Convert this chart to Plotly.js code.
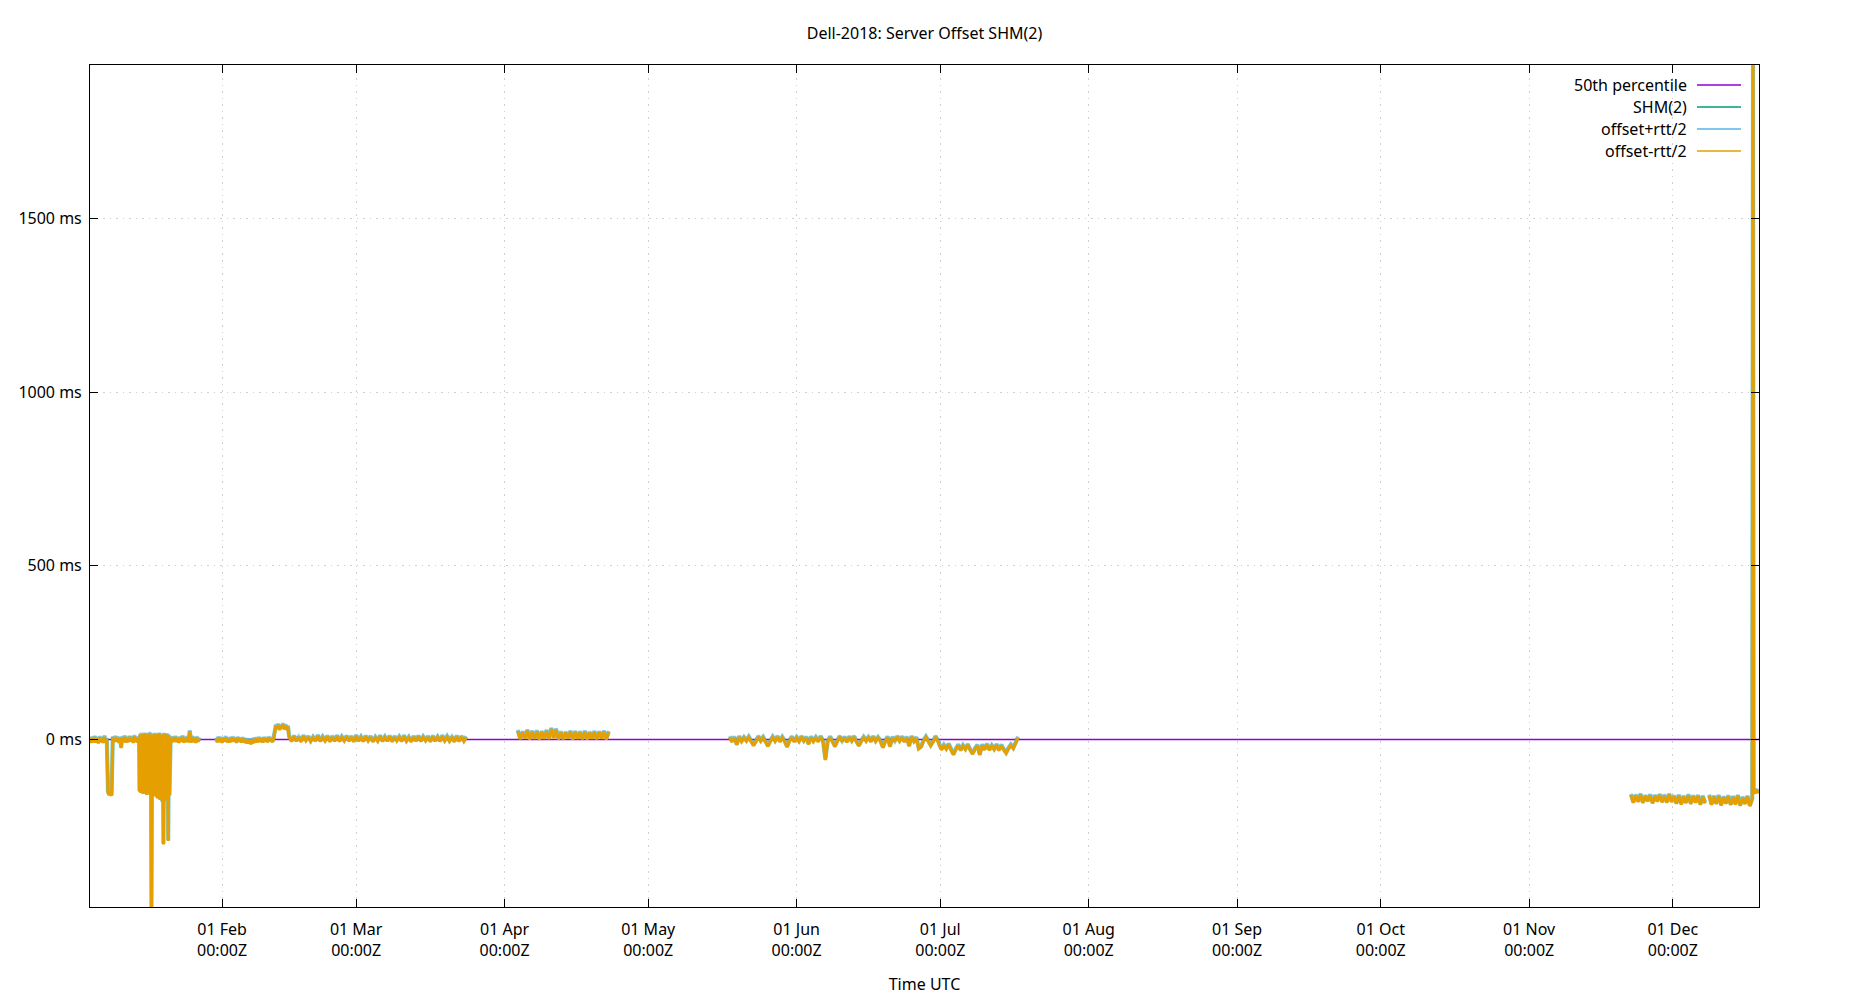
<!DOCTYPE html>
<html>
<head>
<meta charset="utf-8">
<script src="https://cdn.plot.ly/plotly-3.0.1.min.js"></script>
<style>html,body{margin:0;padding:0;background:#fff;}</style>
</head>
<body>
<div id="chart" style="width:1850px;height:1000px;"></div>
<script>
// ---------------- DATA ----------------
const chartTitle = 'Dell-2018: Server Offset SHM(2)';
const xAxisTitle = 'Time UTC';
const seriesNames = ['50th percentile', 'SHM(2)', 'offset+rtt/2', 'offset-rtt/2'];
const seriesColors = ['#9400d3', '#009e73', '#56b4e9', '#e69f00'];

// tick labels
const monthTickDates = ['2018-02-01','2018-03-01','2018-04-01','2018-05-01','2018-06-01','2018-07-01',
                        '2018-08-01','2018-09-01','2018-10-01','2018-11-01','2018-12-01'];
const monthTickNames = ['Feb','Mar','Apr','May','Jun','Jul','Aug','Sep','Oct','Nov','Dec'];
const yTickValues = [0, 500, 1000, 1500];

// 50th percentile (ms)
const pctTimes = ['2018-01-04 09:50', '2018-12-19 00:00'];
const pctValues = [0, 0];

// sampled segments: start time (UTC), sampling step (hours), starts a new run after a gap
const segStart = ['2018-01-04 10:00','2018-01-14 18:00','2018-01-21 06:00',
                  '2018-01-30 18:00','2018-02-12 00:00','2018-02-15 00:00',
                  '2018-04-03 18:00',
                  '2018-05-18 00:00','2018-06-30 18:00',
                  '2018-11-22 06:00',
                  '2018-12-08 14:00','2018-12-17 18:00'];
const segStepHours = [6, 3, 6, 6, 6, 12, 12, 12, 12, 12, 12, 3];
const segAfterGap = [false, false, false, true, false, false, true, true, false, true, true, false];
// half round-trip time per segment (ms)
const segHalfRtt = [2, 2, 2, 2, 2, 2, 2, 2, 2, 2, 2, 2];

// offsets (ms)
const offJanA = [5,-8,7,-6,9,-7,4,-9,8,-5,6,-8,10,-6,3,-150,-158,-152,-160,8,
                 -6,9,-4,7,-8,6,-23,8,-5,10,-7,5,-6,9,-4,7,-8,11,-5,6,-7,8];
const offJanB = [-148,14,-152,18,-150,12,-155,16,-149,19,-153,13,-158,17,-151,15,-156,20,-154,12,
                 -482,16,-160,14,-157,18,-162,13,-159,17,-168,15,-163,19,-172,12,-166,16,-178,14,
                 -300,18,-175,13,-170,17,-165,15,-290,12,-160];
const offJanC = [6,-7,8,-5,9,-6,5,-8,7,-4,10,-7,6,-5,8,-6,25,-7,9,-5,6,-8,7,-4,5];
const offFebA = [4,-6,7,-5,6,-8,5,-4,8,-6,3,-7,6,-5,7,-4,5,-8,6,-3,
                 4,-7,5,-6,3,-9,2,-10,1,-12,2,-9,4,-7,5,-6,6,-5,4,-7,
                 6,-4,5,-6,7,-3,5,-6,4];
const offFebB = [30,42,33,44,29,40,35,45,31,41,34,38];
const offMar = [9,-4,10,-3,8,-5,11,-2,9,-4,7,-3,12,-4,8,-2,10,-5,9,-3,
                11,-4,8,-2,10,-3,9,-5,12,-3,8,-4,10,-2,9,-5,7,-3,11,-4,
                8,-3,10,-5,9,-2,8,-4,11,-3,7,-5,9,-3,10,-4,8,-2,9,-5,
                10,-3,8,-4,11,-2,9,-3,8,-5,10,-4,9,-3,8];
const offApr = [26,3,22,5,27,2,24,4,25,1,23,4,26,3,32,6,30,2,22,3,
                21,5,24,2,23,4,22,3,24,2,21,4,23,3,22,5,24,2,23];
const offJun = [8,-5,7,-14,9,-4,6,-3,8,-5,-16,-4,9,-3,7,-5,-18,-4,8,-3,
                9,-5,7,-4,-20,-3,8,-5,6,-4,9,-3,7,-12,8,-4,6,-5,9,-3,
                -57,-4,8,-5,-19,-3,9,-4,7,-6,8,-3,9,-5,-17,-4,7,-3,8,-5,
                9,-4,6,-3,-22,-5,8,-19,7,-4,9,-3,8,-5,7,-18,9,-4,6,-25,
                -20,-3,8,-4,-16,-5,9,-3];
const offJul = [-14,-28,-16,-26,-13,-29,-42,-27,-15,-30,-17,-27,-14,-29,-40,-26,-16,-43,-15,-28,
                -13,-29,-17,-27,-14,-30,-16,-28,-38,-25,-15,-24,-10,7];
const offNov = [-158,-180,-160,-178,-157,-181,-162,-176,-159,-182,-161,-177,-158,-179,-160,-180,
                -157,-178,-162,-183,-160,-185,-163,-181,-159,-184,-162,-180,-161,-186,-163,-182];
const offDecA = [-160,-186,-163,-184,-161,-188,-165,-183,-162,-187,-164,-185,-161,-189,-166,-184,-163,-190,-170];
const offDecB = [1941,-140,-155,-142,-153,-144,-150,-147,-152,-146,-150];

const segOffsets = [offJanA, offJanB, offJanC, offFebA, offFebB, offMar, offApr, offJun, offJul, offNov, offDecA, offDecB];

// ---------------- BUILD ----------------
function toMs(s) { return Date.parse(s.replace(' ', 'T') + ':00Z'); }

function buildSeries(sign) {
  const xs = [], ys = [];
  segOffsets.forEach((vals, s) => {
    const t0 = toMs(segStart[s]);
    const step = segStepHours[s] * 3600000;
    if (segAfterGap[s] && xs.length) { xs.push(t0 - step); ys.push(null); }
    vals.forEach((v, i) => {
      xs.push(t0 + i * step);
      ys.push(v + sign * segHalfRtt[s]);
    });
  });
  return { xs, ys };
}

const shm = buildSeries(0);
const plus = buildSeries(1);
const minus = buildSeries(-1);

const traces = [
  { x: pctTimes, y: pctValues, type: 'scatter', mode: 'lines', name: seriesNames[0],
    line: { color: seriesColors[0], width: 1.3 }, hoverinfo: 'skip' },
  { x: shm.xs, y: shm.ys, type: 'scatter', mode: 'lines', name: seriesNames[1],
    line: { color: seriesColors[1], width: 4.2 }, opacity: 0.45, connectgaps: false },
  { x: plus.xs, y: plus.ys, type: 'scatter', mode: 'lines', name: seriesNames[2],
    line: { color: seriesColors[2], width: 3.4 }, opacity: 0.5, connectgaps: false },
  { x: minus.xs, y: minus.ys, type: 'scatter', mode: 'lines', name: seriesNames[3],
    line: { color: seriesColors[3], width: 3 }, connectgaps: false }
];

// ---------------- LAYOUT ----------------
const W = 1850, H = 1000;
const M = { l: 90, r: 91, t: 65, b: 93 };
const pw = W - M.l - M.r, ph = H - M.t - M.b;
const px2x = p => (p - M.l) / pw;
const px2y = p => 1 - (p - M.t) / ph;

const legendRowsPx = [85, 107, 129, 151];
const legendTextRightPx = 1689;
const legendLinePx = [1697, 1741];

const annotations = seriesNames.map((n, i) => ({
  x: px2x(legendTextRightPx), y: px2y(legendRowsPx[i]), xref: 'paper', yref: 'paper',
  xanchor: 'right', yanchor: 'middle', text: n, showarrow: false,
  font: { size: 16, color: '#000' }
}));
const shapes = seriesNames.map((n, i) => ({
  type: 'line', xref: 'paper', yref: 'paper',
  x0: px2x(legendLinePx[0]), x1: px2x(legendLinePx[1]),
  y0: px2y(legendRowsPx[i]), y1: px2y(legendRowsPx[i]),
  line: { color: seriesColors[i], width: 1.3 }
}));

const axisCommon = {
  showline: true, linecolor: '#000', linewidth: 1, mirror: 'ticks',
  ticks: 'inside', ticklen: 8, tickwidth: 1, tickcolor: '#000',
  showgrid: true, gridcolor: '#cfcfcf', griddash: '1.5px,5px', gridwidth: 1,
  zeroline: false, fixedrange: true
};

const layout = {
  width: W, height: H, margin: M,
  paper_bgcolor: '#fff', plot_bgcolor: '#fff',
  font: { family: '"Noto Sans", "Open Sans", sans-serif', size: 16, color: '#000' },
  title: { text: chartTitle, x: 0.5, xref: 'paper', xanchor: 'center',
           y: 1 - 33 / H, yref: 'container', yanchor: 'middle', font: { size: 16 } },
  showlegend: false,
  xaxis: Object.assign({}, axisCommon, {
    type: 'date',
    range: ['2018-01-04 09:50', '2018-12-19 00:00'],
    tickmode: 'array',
    tickvals: monthTickDates,
    ticktext: monthTickNames.map(m => '01 ' + m + '<br>00:00Z'),
    ticklabelstandoff: 8,
    title: { text: xAxisTitle, standoff: 18, font: { size: 16 } },
    automargin: false
  }),
  yaxis: Object.assign({}, axisCommon, {
    range: [-482, 1941],
    tickmode: 'array',
    tickvals: yTickValues,
    ticktext: yTickValues.map(v => v + ' ms'),
    ticklabelstandoff: 4,
    automargin: false
  }),
  annotations: annotations,
  shapes: shapes
};

Plotly.newPlot('chart', traces, layout, { displayModeBar: false, staticPlot: true });
</script>
</body>
</html>
